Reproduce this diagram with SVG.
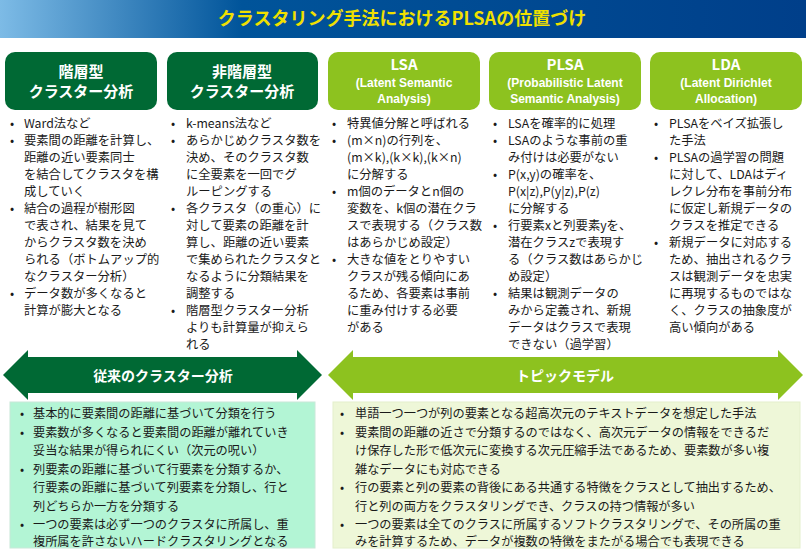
<svg xmlns="http://www.w3.org/2000/svg" width="806" height="551" viewBox="0 0 806 551">
<defs>
<linearGradient id="tg" x1="0" x2="1" y1="0" y2="0"><stop offset="0" stop-color="#7dbbe6"/><stop offset="0.3" stop-color="#00549a"/><stop offset="1" stop-color="#003f8a"/></linearGradient>
<style>
text{font-family:"Noto Sans CJK JP","Liberation Sans",sans-serif}
.h{fill:#fff;font-weight:bold;font-size:15px;text-anchor:middle}
.hs{fill:#fff;font-weight:bold;font-size:12px;text-anchor:middle;font-family:"Liberation Sans",sans-serif}
.b{fill:#1a1a1a;font-size:12.3px}
.s{fill:#1a1a1a;font-size:12.2px}
.dk{fill:#006934}
.lt{fill:#8dc21f}
</style>
</defs>
<rect width="806" height="551" fill="#fff"/>
<rect x="0" y="0" width="806" height="38" fill="url(#tg)"/>
<text x="402" y="25" text-anchor="middle" style="fill:#f0e000;font-size:18px;font-weight:bold">クラスタリング手法におけるPLSAの位置づけ</text>

<g id="n1"><rect class="dk" x="5" y="52" width="152" height="58" rx="10"/><text class="h" x="81" y="77">階層型</text><text class="h" x="81" y="97">クラスター分析</text>
<text class="b"><tspan x="10" y="128">•</tspan><tspan x="24" y="128">Ward法など</tspan><tspan x="10" y="145">•</tspan><tspan x="24" y="145">要素間の距離を計算し、</tspan><tspan x="24" y="162">距離の近い要素同士</tspan><tspan x="24" y="179">を結合してクラスタを構</tspan><tspan x="24" y="196">成していく</tspan><tspan x="10" y="213">•</tspan><tspan x="24" y="213">結合の過程が樹形図</tspan><tspan x="24" y="230">で表され、結果を見て</tspan><tspan x="24" y="247">からクラスタ数を決め</tspan><tspan x="24" y="264">られる（ボトムアップ的</tspan><tspan x="24" y="281">なクラスター分析）</tspan><tspan x="10" y="298">•</tspan><tspan x="24" y="298">データ数が多くなると</tspan><tspan x="24" y="315">計算が膨大となる</tspan></text></g>

<g id="n2"><rect class="dk" x="167" y="52" width="151" height="58" rx="10"/><text class="h" x="242" y="77">非階層型</text><text class="h" x="242" y="97">クラスター分析</text>
<text class="b"><tspan x="171" y="128">•</tspan><tspan x="186" y="128">k-means法など</tspan><tspan x="171" y="145">•</tspan><tspan x="186" y="145">あらかじめクラスタ数を</tspan><tspan x="186" y="162">決め、そのクラスタ数</tspan><tspan x="186" y="179">に全要素を一回でグ</tspan><tspan x="186" y="196">ルーピングする</tspan><tspan x="171" y="213">•</tspan><tspan x="186" y="213">各クラスタ（の重心）に</tspan><tspan x="186" y="230">対して要素の距離を計</tspan><tspan x="186" y="247">算し、距離の近い要素</tspan><tspan x="186" y="264">で集められたクラスタと</tspan><tspan x="186" y="281">なるように分類結果を</tspan><tspan x="186" y="298">調整する</tspan><tspan x="171" y="315">•</tspan><tspan x="186" y="315">階層型クラスター分析</tspan><tspan x="186" y="332">よりも計算量が抑えら</tspan><tspan x="186" y="349">れる</tspan></text></g>

<g id="n3"><rect class="lt" x="328" y="52" width="152" height="58" rx="10"/><text class="h" x="404" y="70">LSA</text><text class="hs" x="404" y="87">(Latent Semantic</text><text class="hs" x="404" y="103">Analysis)</text>
<text class="b"><tspan x="332" y="128">•</tspan><tspan x="347" y="128">特異値分解と呼ばれる</tspan><tspan x="332" y="145">•</tspan><tspan x="347" y="145">(m×n)の行列を、</tspan><tspan x="347" y="162">(m×k),(k×k),(k×n)</tspan><tspan x="347" y="179">に分解する</tspan><tspan x="332" y="196">•</tspan><tspan x="347" y="196">m個のデータとn個の</tspan><tspan x="347" y="213">変数を、k個の潜在クラ</tspan><tspan x="347" y="230">スで表現する（クラス数</tspan><tspan x="347" y="247">はあらかじめ設定）</tspan><tspan x="332" y="264">•</tspan><tspan x="347" y="264">大きな値をとりやすい</tspan><tspan x="347" y="281">クラスが残る傾向にあ</tspan><tspan x="347" y="298">るため、各要素は事前</tspan><tspan x="347" y="315">に重み付けする必要</tspan><tspan x="347" y="332">がある</tspan></text></g>

<g id="n4"><rect class="lt" x="489" y="52" width="152" height="58" rx="10"/><text class="h" x="565" y="70">PLSA</text><text class="hs" x="565" y="87">(Probabilistic Latent</text><text class="hs" x="565" y="103">Semantic Analysis)</text>
<text class="b"><tspan x="493" y="128">•</tspan><tspan x="508" y="128">LSAを確率的に処理</tspan><tspan x="493" y="145">•</tspan><tspan x="508" y="145">LSAのような事前の重</tspan><tspan x="508" y="162">み付けは必要がない</tspan><tspan x="493" y="179">•</tspan><tspan x="508" y="179">P(x,y)の確率を、</tspan><tspan x="508" y="196">P(x|z),P(y|z),P(z)</tspan><tspan x="508" y="213">に分解する</tspan><tspan x="493" y="230">•</tspan><tspan x="508" y="230">行要素xと列要素yを、</tspan><tspan x="508" y="247">潜在クラスzで表現す</tspan><tspan x="508" y="264">る（クラス数はあらかじ</tspan><tspan x="508" y="281">め設定）</tspan><tspan x="493" y="298">•</tspan><tspan x="508" y="298">結果は観測データの</tspan><tspan x="508" y="315">みから定義され、新規</tspan><tspan x="508" y="332">データはクラスで表現</tspan><tspan x="508" y="349">できない（過学習）</tspan></text></g>

<g id="n5"><rect class="lt" x="650" y="52" width="152" height="58" rx="10"/><text class="h" x="726" y="70">LDA</text><text class="hs" x="726" y="87">(Latent Dirichlet</text><text class="hs" x="726" y="103">Allocation)</text>
<text class="b"><tspan x="654" y="128">•</tspan><tspan x="669" y="128">PLSAをベイズ拡張し</tspan><tspan x="669" y="145">た手法</tspan><tspan x="654" y="162">•</tspan><tspan x="669" y="162">PLSAの過学習の問題</tspan><tspan x="669" y="179">に対して、LDAはディ</tspan><tspan x="669" y="196">レクレ分布を事前分布</tspan><tspan x="669" y="213">に仮定し新規データの</tspan><tspan x="669" y="230">クラスを推定できる</tspan><tspan x="654" y="247">•</tspan><tspan x="669" y="247">新規データに対応する</tspan><tspan x="669" y="264">ため、抽出されるクラ</tspan><tspan x="669" y="281">スは観測データを忠実</tspan><tspan x="669" y="298">に再現するものではな</tspan><tspan x="669" y="315">く、クラスの抽象度が</tspan><tspan x="669" y="332">高い傾向がある</tspan></text></g>

<g id="connectors">
<path class="dk" d="M3,375 L28,350 L28,357 L297,357 L297,350 L322,375 L297,400 L297,393 L28,393 L28,400 Z"/>
<path class="lt" d="M328,375 L353,350 L353,357 L778,357 L778,350 L803,375 L778,400 L778,393 L353,393 L353,400 Z"/>
<text class="h" x="163" y="381" style="font-size:14px">従来のクラスター分析</text>
<text class="h" x="565" y="381" style="font-size:14px">トピックモデル</text>
</g>

<g id="b1"><rect x="10" y="402" width="305" height="146" fill="#b3f5d5" stroke="#c8e8d8"/>
<text class="s"><tspan x="20" y="418">•</tspan><tspan x="33" y="418">基本的に要素間の距離に基づいて分類を行う</tspan><tspan x="20" y="437">•</tspan><tspan x="33" y="437">要素数が多くなると要素間の距離が離れていき</tspan><tspan x="33" y="455">妥当な結果が得られにくい（次元の呪い）</tspan><tspan x="20" y="474">•</tspan><tspan x="33" y="474">列要素の距離に基づいて行要素を分類するか、</tspan><tspan x="33" y="492">行要素の距離に基づいて列要素を分類し、行と</tspan><tspan x="33" y="511">列どちらか一方を分類する</tspan><tspan x="20" y="529">•</tspan><tspan x="33" y="529">一つの要素は必ず一つのクラスタに所属し、重</tspan><tspan x="33" y="546">複所属を許さないハードクラスタリングとなる</tspan></text></g>

<g id="b2"><rect x="333" y="402" width="467" height="146" fill="#eef7d8" stroke="#e4efcc"/>
<text class="s"><tspan x="340" y="418">•</tspan><tspan x="355" y="418">単語一つ一つが列の要素となる超高次元のテキストデータを想定した手法</tspan><tspan x="340" y="437">•</tspan><tspan x="355" y="437">要素間の距離の近さで分類するのではなく、高次元データの情報をできるだ</tspan><tspan x="355" y="455">け保存した形で低次元に変換する次元圧縮手法であるため、要素数が多い複</tspan><tspan x="355" y="474">雑なデータにも対応できる</tspan><tspan x="340" y="492">•</tspan><tspan x="355" y="492">行の要素と列の要素の背後にある共通する特徴をクラスとして抽出するため、</tspan><tspan x="355" y="511">行と列の両方をクラスタリングでき、クラスの持つ情報が多い</tspan><tspan x="340" y="529">•</tspan><tspan x="355" y="529">一つの要素は全てのクラスに所属するソフトクラスタリングで、その所属の重</tspan><tspan x="355" y="546">みを計算するため、データが複数の特徴をまたがる場合でも表現できる</tspan></text></g>
</svg>
